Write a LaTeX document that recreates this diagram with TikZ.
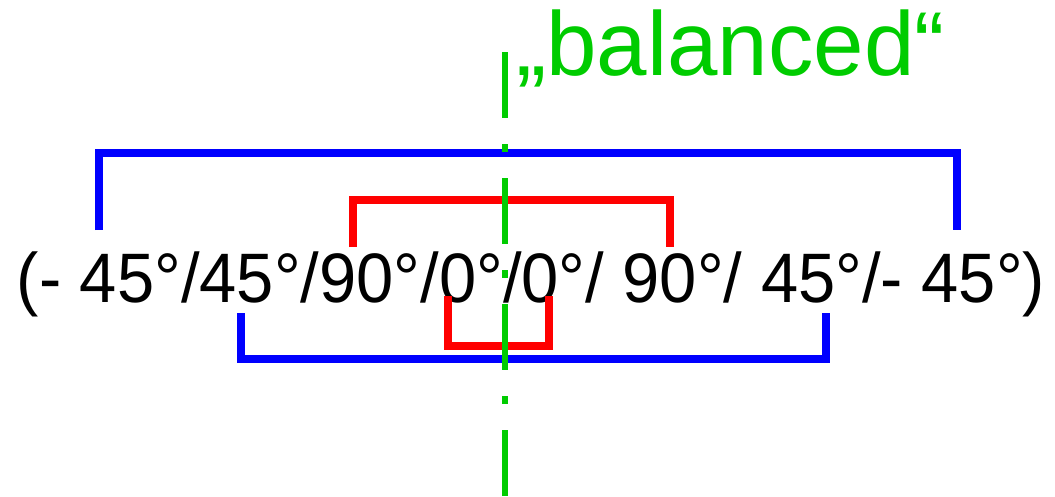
\documentclass[tikz,border=0pt]{standalone}
\usepackage{fontspec}
\setmainfont{Liberation Sans}
\usetikzlibrary{positioning}
\definecolor{brkblue}{HTML}{0000FF}
\definecolor{brkred}{HTML}{FF0000}
\definecolor{symgreen}{HTML}{00CC00}
\tikzset{
	outerbrk/.style={draw=brkblue, line width=5pt, line join=miter}
}
\tikzset{
	innerbrk/.style={draw=brkred, line width=5pt, line join=miter}
}
\tikzset{
	symline/.style={draw=symgreen, line width=4.5pt,
			dash pattern=on 1.65cm off 0.65cm on 0.2cm off 0.65cm}
}
\tikzset{
	laytext/.style={inner sep=0pt, xscale=0.955, font=\fontsize{49.8pt}{52pt}\selectfont}
}
\tikzset{
	symtext/.style={inner sep=0pt, text=symgreen, font=\fontsize{64.5pt}{66pt}\selectfont}
}

\begin{document}
\begin{tikzpicture}[x=0.025cm, y=-0.025cm]

	\useasboundingbox (0,0) rectangle (1055,496);

	\node[laytext, anchor=base] (layup) at (531,302) {(- 45°/45°/90°/0°/0°/ 90°/ 45°/- 45°)};
	\node[symtext, anchor=base west] (sym) at (516,75) {„balanced“};

	\begin{scope}
		\coordinate (uA) at (99,230);
		\coordinate (uB) at (957,230);
		\coordinate (vA) at (353,247);
		\coordinate (vB) at (670,247);

		\draw[outerbrk] (uA) |- (528,153) -| (uB);
		\draw[innerbrk] (vA) |- (511,200) -| (vB);
	\end{scope}

	\begin{scope}
		\coordinate (lA) at (241,313);
		\coordinate (lB) at (826,313);
		\coordinate (mA) at (448,296);
		\coordinate (mB) at (549,296);

		\draw[innerbrk] (mA) |- (498,346) -| (mB);
		\draw[outerbrk] (lA) |- (533,359) -| (lB);
	\end{scope}

	\coordinate (symtop) at (505,52);
	\coordinate (symbot) at (505,496);
	\draw[symline] (symtop) -- (symbot);

\end{tikzpicture}
\end{document}
